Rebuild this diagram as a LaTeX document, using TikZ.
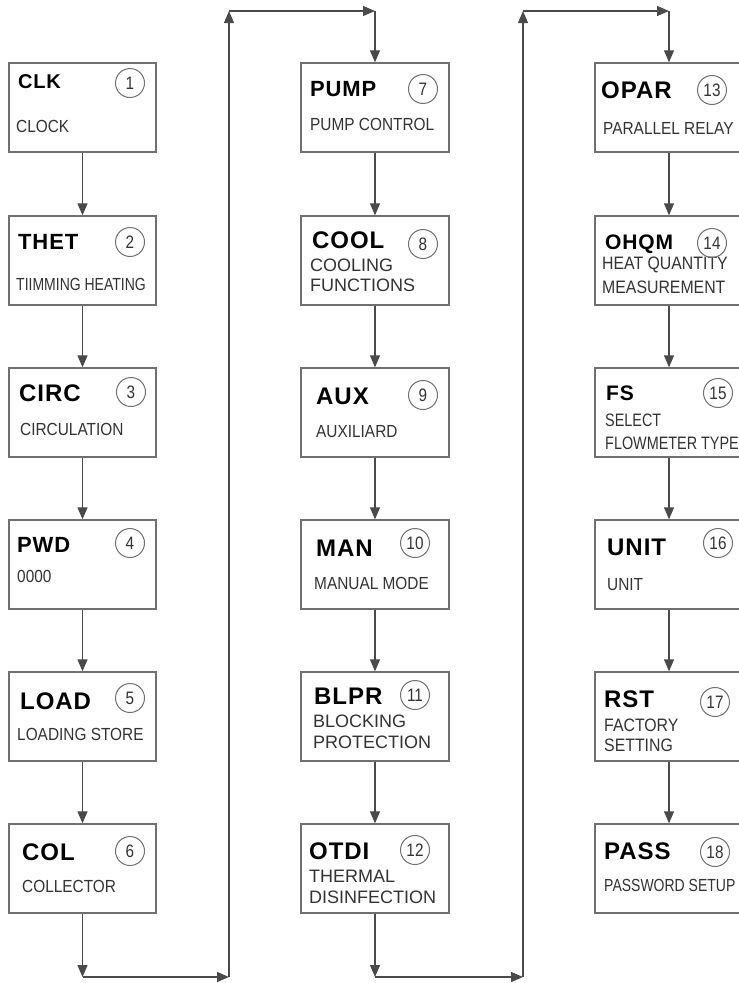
\documentclass[tikz,border=0pt]{standalone}
\usepackage{fontspec}
\setmainfont{Liberation Sans}
\newfontfamily\subfont[FakeStretch=0.88]{Liberation Sans}
\newfontfamily\subnarrow[FakeStretch=0.8]{Liberation Sans}
\newfontfamily\numfont[FakeStretch=0.85]{Liberation Sans}
\newfontfamily\ttlfont[LetterSpace=4]{Liberation Sans}
\usetikzlibrary{arrows.meta}
\definecolor{boxgray}{HTML}{707070}
\definecolor{linegray}{HTML}{4A4A4A}
\definecolor{subgray}{HTML}{333333}
\tikzset{
  box/.style={draw=boxgray, line width=1.4pt, minimum width=#1, minimum height=89pt, inner sep=0pt},
  box/.default=147pt,
  ttl/.style={anchor=west, inner sep=0pt, text=black, font=\ttlfont\bfseries\fontsize{#1}{#1}\selectfont},
  ttl/.default=24,
  sub/.style={anchor=west, inner sep=0pt, text=subgray, font=\subfont\fontsize{17.5}{20}\selectfont},
  subn/.style={anchor=west, inner sep=0pt, text=subgray, font=\subnarrow\fontsize{17.5}{20}\selectfont},
  subtwo/.style={anchor=north west, inner sep=0pt, align=left, text=subgray, font=\fontsize{18}{#1}\selectfont},
  subtwos/.style={anchor=north west, inner sep=0pt, align=left, text=subgray, font=\subfont\fontsize{18}{#1}\selectfont},
  subtwon/.style={anchor=north west, inner sep=0pt, align=left, text=subgray, font=\subnarrow\fontsize{18}{#1}\selectfont},
  num/.style={circle, draw=boxgray, line width=1pt, minimum size=29pt, inner sep=0pt, text=subgray, font=\numfont\fontsize{18}{20}\selectfont},
  conn/.style={draw=linegray, line width=1.3pt, -{Triangle[length=12pt,width=10pt]}}
}
\begin{document}
\begin{tikzpicture}[x=1pt,y=-1pt]
\useasboundingbox[fill=white] (0,0) rectangle (739,983);
% column 1
\node[box] (b1) at (82.5,107.5) {};
\node[box] (b2) at (82.5,260.5) {};
\node[box] (b3) at (82.5,412.5) {};
\node[box] (b4) at (82.5,564.5) {};
\node[box] (b5) at (82.5,716.5) {};
\node[box] (b6) at (82.5,868.5) {};
% column 2
\node[box=148pt] (b7) at (375,107.5) {};
\node[box=148pt] (b8) at (375,260.5) {};
\node[box=148pt] (b9) at (375,412.5) {};
\node[box=148pt] (b10) at (375,564.5) {};
\node[box=148pt] (b11) at (375,716.5) {};
\node[box=148pt] (b12) at (375,868.5) {};
% column 3
\node[box=148pt] (b13) at (669,107.5) {};
\node[box=148pt] (b14) at (669,260.5) {};
\node[box=148pt] (b15) at (669,412.5) {};
\node[box=148pt] (b16) at (669,564.5) {};
\node[box=148pt] (b17) at (669,716.5) {};
\node[box=148pt] (b18) at (669,868.5) {};
% titles
\node[ttl=20] (t1) at (18,82) {CLK};
\node[ttl=22] (t2) at (18,242) {THET};
\node[ttl] (t3) at (19,393) {CIRC};
\node[ttl=22] (t4) at (17,545) {PWD};
\node[ttl] (t5) at (20,701) {LOAD};
\node[ttl] (t6) at (22,852) {COL};
\node[ttl=22] (t7) at (310,89) {PUMP};
\node[ttl] (t8) at (312,240) {COOL};
\node[ttl] (t9) at (316,396) {AUX};
\node[ttl] (t10) at (316,548) {MAN};
\node[ttl] (t11) at (314,696) {BLPR};
\node[ttl] (t12) at (309,851) {OTDI};
\node[ttl] (t13) at (601,90) {OPAR};
\node[ttl=21] (t14) at (605,244) {OHQM};
\node[ttl=21] (t15) at (606,393) {FS};
\node[ttl] (t16) at (607,547) {UNIT};
\node[ttl] (t17) at (604,699) {RST};
\node[ttl] (t18) at (604,851) {PASS};
% subtitles
\node[sub] (s1) at (16,126) {CLOCK};
\node[subn] (s2) at (16,284) {TIIMMING HEATING};
\node[sub] (s3) at (20,429) {CIRCULATION};
\node[sub] (s4) at (17,576) {0000};
\node[sub] (s5) at (17,734) {LOADING STORE};
\node[sub] (s6) at (22,886) {COLLECTOR};
\node[sub] (s7) at (310,124) {PUMP CONTROL};
\node[subtwo=20] (s8) at (310,258.5) {COOLING\\FUNCTIONS};
\node[sub] (s9) at (316,432) {AUXILIARD};
\node[sub] (s10) at (314,583) {MANUAL MODE};
\node[subtwo=21] (s11) at (313,714.5) {BLOCKING\\PROTECTION};
\node[subtwo=21] (s12) at (309,869.5) {THERMAL\\DISINFECTION};
\node[sub] (s13) at (603,128) {PARALLEL RELAY};
\node[subtwos=24] (s14) at (602,256.5) {HEAT QUANTITY\\MEASUREMENT};
\node[subtwon=23] (s15) at (605,413.5) {SELECT\\FLOWMETER TYPE};
\node[sub] (s16) at (607,585) {UNIT};
\node[subtwos=20] (s17) at (604,718.5) {FACTORY\\SETTING};
\node[subn] (s18) at (604,885) {PASSWORD SETUP};
% numbers
\node[num] (n1) at (130,83) {1};
\node[num] (n2) at (130,242) {2};
\node[num] (n3) at (131,392) {3};
\node[num] (n4) at (130,543) {4};
\node[num] (n5) at (130,698) {5};
\node[num] (n6) at (130,851) {6};
\node[num] (n7) at (423,89) {7};
\node[num] (n8) at (423,244) {8};
\node[num] (n9) at (423,395) {9};
\node[num] (n10) at (415,543) {10};
\node[num] (n11) at (415,695) {11};
\node[num] (n12) at (415,850) {12};
\node[num] (n13) at (712,90) {13};
\node[num] (n14) at (712,243) {14};
\node[num] (n15) at (718,393) {15};
\node[num] (n16) at (718,543) {16};
\node[num] (n17) at (715,702) {17};
\node[num] (n18) at (715,852) {18};
% corner points
\coordinate (c1) at (82.5,977);
\coordinate (c2) at (229,977);
\coordinate (c3) at (229,11);
\coordinate (c4) at (375,11);
\coordinate (c5) at (375,977);
\coordinate (c6) at (523,977);
\coordinate (c7) at (523,11);
\coordinate (c8) at (669,11);
% connectors column 1
\draw[conn] (b1.south) -- (b2.north);
\draw[conn] (b2.south) -- (b3.north);
\draw[conn] (b3.south) -- (b4.north);
\draw[conn] (b4.south) -- (b5.north);
\draw[conn] (b5.south) -- (b6.north);
\draw[conn] (b6.south) -- (c1);
\draw[conn] (c1) -- (c2);
\draw[conn] (c2) -- (c3);
\draw[conn] (c3) -- (c4);
\draw[conn] (c4) -- (b7.north);
% column 2
\draw[conn] (b7.south) -- (b8.north);
\draw[conn] (b8.south) -- (b9.north);
\draw[conn] (b9.south) -- (b10.north);
\draw[conn] (b10.south) -- (b11.north);
\draw[conn] (b11.south) -- (b12.north);
\draw[conn] (b12.south) -- (c5);
\draw[conn] (c5) -- (c6);
\draw[conn] (c6) -- (c7);
\draw[conn] (c7) -- (c8);
\draw[conn] (c8) -- (b13.north);
% column 3
\draw[conn] (b13.south) -- (b14.north);
\draw[conn] (b14.south) -- (b15.north);
\draw[conn] (b15.south) -- (b16.north);
\draw[conn] (b16.south) -- (b17.north);
\draw[conn] (b17.south) -- (b18.north);
\end{tikzpicture}
\end{document}
